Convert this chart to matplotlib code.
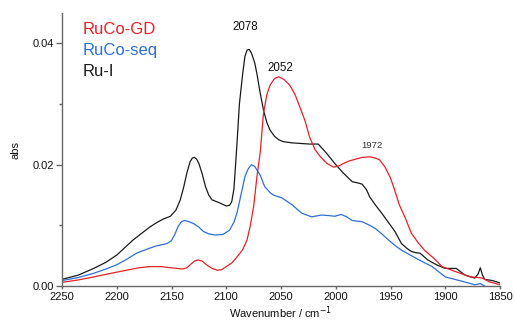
import matplotlib
matplotlib.use("Agg")
import matplotlib.pyplot as plt
from matplotlib.ticker import MultipleLocator, FormatStrFormatter

plt.rcParams['font.family'] = ['Liberation Sans', 'DejaVu Sans']

ru_wn = [2250, 2235, 2221, 2210, 2200, 2185, 2170, 2164, 2158, 2151, 2146, 2142, 2139, 2136,
         2133, 2131, 2129, 2127, 2125, 2122, 2119, 2116, 2113, 2106, 2100, 2097, 2095, 2093,
         2092, 2090, 2088, 2085, 2083, 2081, 2079, 2077, 2074, 2072, 2069, 2066, 2063, 2060,
         2056, 2052, 2048, 2040, 2032, 2024, 2016, 2008, 2000, 1993, 1985, 1980, 1976, 1972,
         1969, 1964, 1958, 1952, 1946, 1940, 1935, 1931, 1927, 1923, 1916, 1908, 1900, 1890,
         1882, 1873, 1870, 1868, 1866, 1864, 1857, 1850]
ru_abs = [0.0011, 0.0018, 0.0029, 0.0039, 0.0051, 0.0076, 0.0097, 0.0104, 0.0110, 0.0115,
          0.0125, 0.0142, 0.0162, 0.0186, 0.0205, 0.0211, 0.0212, 0.0209, 0.0202, 0.0185,
          0.0164, 0.0150, 0.0142, 0.0137, 0.0132, 0.0133, 0.0139, 0.0160, 0.0186, 0.0241,
          0.0300, 0.0350, 0.0378, 0.0389, 0.0390, 0.0384, 0.0368, 0.0350, 0.0318, 0.0290,
          0.0270, 0.0257, 0.0247, 0.0241, 0.0238, 0.0236, 0.0235, 0.0234, 0.0234, 0.0218,
          0.0200, 0.0186, 0.0172, 0.0170, 0.0168, 0.0159, 0.0147, 0.0134, 0.0120, 0.0105,
          0.0090, 0.0070, 0.0062, 0.0057, 0.0055, 0.0054, 0.0043, 0.0035, 0.0029, 0.0029,
          0.0018, 0.0013, 0.0020, 0.0030, 0.0018, 0.0011, 0.0009, 0.0005]

gd_wn = [2250, 2235, 2221, 2205, 2191, 2180, 2170, 2160, 2150, 2140, 2136, 2133, 2129, 2126,
         2122, 2118, 2113, 2108, 2104, 2100, 2095, 2091, 2085, 2081, 2078, 2075, 2072, 2069,
         2066, 2063, 2060, 2056, 2052, 2047, 2042, 2037, 2033, 2028, 2024, 2019, 2014, 2008,
         2002, 1997, 1993, 1988, 1984, 1976, 1969, 1964, 1960, 1955, 1950, 1946, 1942, 1936,
         1931, 1925, 1919, 1910, 1903, 1891, 1877, 1870, 1866, 1860, 1850]
gd_abs = [0.0006, 0.0010, 0.0015, 0.0021, 0.0026, 0.0030, 0.0032, 0.0032, 0.0030, 0.0028,
          0.0030, 0.0035, 0.0041, 0.0043, 0.0041, 0.0035, 0.0029, 0.0026, 0.0027, 0.0032,
          0.0038, 0.0046, 0.0060, 0.0076, 0.0100, 0.0131, 0.0180, 0.0220, 0.0285, 0.0315,
          0.0331, 0.0342, 0.0345, 0.0340, 0.0331, 0.0315, 0.0296, 0.0272, 0.0246, 0.0225,
          0.0213, 0.0202, 0.0196, 0.0198, 0.0202, 0.0206, 0.0208, 0.0212, 0.0213, 0.0211,
          0.0208, 0.0196, 0.0178, 0.0157, 0.0134, 0.0110, 0.0087, 0.0072, 0.0059, 0.0045,
          0.0032, 0.0024, 0.0015, 0.0014, 0.0013, 0.0007, 0.0002]

seq_wn = [2250, 2235, 2221, 2210, 2200, 2190, 2182, 2172, 2164, 2154, 2150, 2147, 2144, 2141,
          2138, 2134, 2130, 2125, 2121, 2116, 2110, 2103, 2097, 2093, 2090, 2086, 2083, 2080,
          2077, 2074, 2069, 2065, 2060, 2057, 2049, 2040, 2031, 2022, 2013, 2006, 2001, 1995,
          1990, 1985, 1976, 1970, 1964, 1958, 1952, 1946, 1940, 1932, 1924, 1912, 1900, 1885,
          1873, 1868, 1864]
seq_abs = [0.0009, 0.0014, 0.0021, 0.0028, 0.0035, 0.0045, 0.0054, 0.0061, 0.0066, 0.0070,
           0.0075, 0.0085, 0.0098, 0.0106, 0.0108, 0.0106, 0.0103, 0.0097, 0.0090, 0.0086,
           0.0084, 0.0085, 0.0092, 0.0105, 0.0122, 0.0155, 0.0180, 0.0193, 0.0200, 0.0197,
           0.0183, 0.0164, 0.0154, 0.0150, 0.0145, 0.0134, 0.0120, 0.0114, 0.0117, 0.0116,
           0.0115, 0.0118, 0.0114, 0.0108, 0.0106, 0.0101, 0.0095, 0.0086, 0.0076, 0.0067,
           0.0059, 0.0051, 0.0043, 0.0032, 0.0015, 0.0008, 0.0002, 0.0004, 0.0000]

series_names = ["RuCo-GD", "RuCo-seq", "Ru-I"]
series_colors = ["#e3222a", "#2f6fd6", "#1a1a1a"]
peak_labels = ["2078", "2052", "1972"]

fig = plt.figure(figsize=(5.15, 3.26), dpi=100)
ax = fig.add_axes([0.1204, 0.1227, 0.8505, 0.8373])

ax.plot(ru_wn, ru_abs, color=series_colors[2], lw=0.9, solid_joinstyle='round')
ax.plot(seq_wn, seq_abs, color=series_colors[1], lw=0.9, solid_joinstyle='round')
ax.plot(gd_wn, gd_abs, color=series_colors[0], lw=0.9, solid_joinstyle='round')

ax.set_xlim(2250, 1850)
ax.set_ylim(0, 0.045)
ax.xaxis.set_major_locator(MultipleLocator(50))
ax.yaxis.set_major_locator(MultipleLocator(0.02))
ax.yaxis.set_minor_locator(MultipleLocator(0.01))
ax.yaxis.set_major_formatter(FormatStrFormatter('%.2f'))

for s in ['top', 'right']:
    ax.spines[s].set_visible(False)
for s in ['left', 'bottom']:
    ax.spines[s].set_color('#666666')
    ax.spines[s].set_linewidth(1.0)
ax.tick_params(axis='y', which='major', direction='out', length=4, width=1, color='#666666',
               labelsize=8, pad=1.5, labelcolor='#111111')
ax.tick_params(axis='y', which='minor', direction='out', length=2.5, width=1, color='#666666')
ax.tick_params(axis='x', which='major', direction='out', length=2, width=1, color='#666666',
               labelsize=8, pad=2, labelcolor='#111111')

ax.set_ylabel("abs", fontsize=8, color='#111111', labelpad=9)
ax.set_xlabel("Wavenumber / cm$^{-1}$", fontsize=8, color='#111111', labelpad=2)

# legend as coloured text
for i, (name, col) in enumerate(zip(series_names, series_colors)):
    ax.text(0.048, 0.94 - i * 0.077, name, transform=ax.transAxes, color=col,
            fontsize=12, ha='left', va='center')

ax.text(2082.9, 0.0427, peak_labels[0], fontsize=8.3, ha='center', va='center', color='#111111')
ax.text(2050.5, 0.0360, peak_labels[1], fontsize=8.3, ha='center', va='center', color='#111111')
ax.text(1967.0, 0.0231, peak_labels[2], fontsize=6.8, ha='center', va='center', color='#333333')

fig.savefig("out.png", dpi=100)
